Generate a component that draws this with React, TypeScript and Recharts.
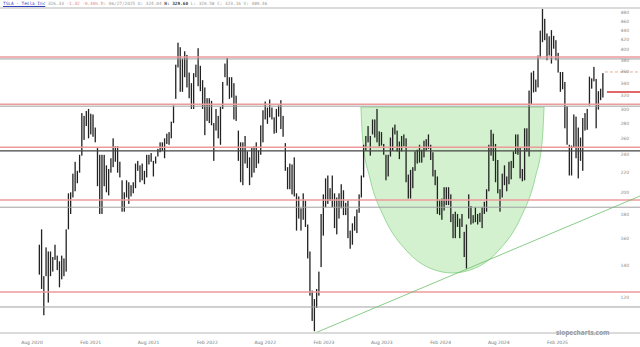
import React from "react";
import { ComposedChart, Bar, Area, Line, XAxis, YAxis, ReferenceLine } from "recharts";

// weekly price bands, first week = 24 Aug 2020
const weekLow = [
  134, 125, 110, 133, 117, 133, 136, 144, 137, 126,
  131, 133, 136, 167, 180, 195, 201, 209, 220, 239,
  258, 276, 260, 265, 262, 255, 206, 180, 180, 206,
  200, 197, 220, 226, 232, 220, 215, 182, 182, 195,
  189, 196, 199, 204, 222, 210, 212, 208, 215, 229,
  232, 216, 230, 238, 243, 245, 236, 253, 252, 260,
  280, 315, 367, 326, 326, 350, 333, 316, 300, 300,
  350, 335, 327, 300, 264, 283, 280, 277, 233, 270,
  260, 252, 300, 350, 336, 315, 317, 285, 283, 233,
  210, 207, 230, 225, 207, 215, 220, 225, 230, 240,
  255, 285, 279, 288, 285, 266, 267, 289, 272, 262,
  222, 203, 203, 198, 196, 166, 176, 166, 175, 169,
  145, 121, 107, 101.8, 114, 121, 139, 162, 186, 189,
  192, 186, 168, 163, 176, 185, 179, 179, 160, 152,
  155, 166, 164, 181, 195, 215, 245, 255, 239, 265,
  261, 255, 250, 251, 240, 212, 216, 238, 245, 265,
  244, 235, 244, 250, 210, 194, 194, 204, 222, 230,
  231, 231, 237, 245, 247, 234, 216, 207, 180, 179,
  175, 183, 188, 188, 173, 160, 160, 169, 160, 169,
  146, 138, 176, 171, 172, 173, 171, 173, 168, 180,
  182, 201, 239, 233, 210, 199, 182, 195, 207, 201,
  208, 213, 225, 241, 240, 214, 211, 212, 244, 238,
  306, 325, 326, 333, 385, 415, 419, 380, 389, 374,
  402, 380, 358, 326, 330, 273, 252, 217, 217, 249,
  236, 214, 233, 222, 270, 271, 305, 331, 343, 273,
  299, 313, 317,
];

const weekHigh = [
  155, 167, 133, 153, 150, 150, 146, 155, 147, 143,
  147, 145, 167, 199, 200, 219, 232, 222, 240, 294,
  290, 297, 300, 293, 292, 274, 248, 240, 240, 240,
  228, 224, 236, 260, 250, 250, 232, 212, 200, 212,
  210, 207, 210, 230, 233, 228, 230, 222, 240, 240,
  242, 233, 238, 247, 255, 255, 260, 266, 268, 282,
  305, 372, 414, 405, 383, 397, 390, 358, 340, 357,
  372, 403, 370, 345, 333, 316, 316, 312, 280, 300,
  290, 303, 342, 374, 384, 350, 350, 340, 320, 270,
  255, 255, 263, 244, 237, 249, 250, 255, 245, 277,
  298, 311, 302, 314, 302, 288, 300, 305, 313, 290,
  254, 226, 230, 229, 237, 199, 196, 185, 199, 192,
  171, 150, 124, 119, 125, 136, 180, 198, 214, 217,
  204, 217, 199, 195, 199, 208, 202, 190, 192, 166,
  172, 178, 184, 198, 217, 252, 263, 276, 263, 285,
  285, 300, 269, 268, 253, 240, 240, 261, 274, 278,
  270, 256, 263, 265, 260, 218, 223, 226, 244, 246,
  252, 246, 257, 259, 265, 252, 243, 223, 216, 193,
  194, 205, 205, 205, 198, 180, 182, 180, 176, 180,
  165, 171, 198, 187, 179, 186, 180, 181, 186, 191,
  203, 252, 271, 266, 253, 234, 203, 219, 228, 216,
  232, 233, 244, 265, 265, 249, 224, 273, 273, 328,
  358, 361, 346, 389, 439, 488, 465, 433, 427, 440,
  428, 419, 394, 359, 359, 342, 304, 252, 251, 292,
  289, 274, 261, 287, 294, 300, 351, 348, 368, 347,
  327, 331, 357,
];

const yTicks = [120, 140, 160, 180, 200, 220, 240, 260, 280, 300, 320, 340, 360, 380, 400, 420, 440, 460, 480];
const xTickWeeks = [-3.29, 23, 48.86, 75.14, 101, 127.29, 153.14, 179.43, 205.43, 231.71];
const xTickLabels = ["Aug 2020", "Feb 2021", "Aug 2021", "Feb 2022", "Aug 2022", "Feb 2023", "Aug 2023", "Feb 2024", "Aug 2024", "Feb 2025"];

const redLevels = [386, 307, 249, 192.7, 123.2];
const grayLevels = [382.5, 304, 186, 114.5];
const darkLevels = [244.5];

// cup outline (week, price)
const cupWeeks = [143.8, 144.6, 147.9, 154.1, 164.3, 174.5, 184.7, 195, 205.2, 215.4, 221.6, 224.9, 225.7];
const cupLows = [302.7, 258, 213.4, 177.4, 150.4, 138.4, 135.1, 138.4, 150.4, 177.4, 213.4, 258, 302.7];
const cupRim = 302.7;

const trendWeeks = [123.3, 268.6];
const trendPrices = [100.9, 196.4];

const dashWeeks = [252.9, 268.6];
const dashPrices = [359, 359];
const lastWeeks = [253.8, 268.6];
const lastPrices = [325.7, 325.7];

const candles = weekLow.map((lo, i) => ({ i, range: [lo, weekHigh[i]] }));
const cup = cupWeeks.map((w, k) => ({ i: w, cup: [cupLows[k], cupRim] }));
const trend = trendWeeks.map((w, k) => ({ i: w, t: trendPrices[k] }));
const dash = dashWeeks.map((w, k) => ({ i: w, d: dashPrices[k] }));
const last = lastWeeks.map((w, k) => ({ i: w, c: lastPrices[k] }));

const xLabel = (v: number) => {
  const k = xTickWeeks.indexOf(v);
  return k >= 0 ? xTickLabels[k] : "";
};

const PriceTick = (props: any) => {
  const { x, y, payload } = props;
  return (
    <text x={x} y={y} dy={1.6} textAnchor="end" fontSize={4.5} fill="#888" fontFamily="DejaVu Sans">
      {payload.value}
    </text>
  );
};

// weekly band drawn as a thin dark stick centred on the bar slot
const Stick = (props: any) => {
  const { x, y, width, height } = props;
  if (height == null || isNaN(height)) return null;
  const cx = x + width / 2;
  return <rect x={cx - 0.65} y={y} width={1.3} height={Math.max(height, 1)} fill="#222" />;
};

export default function App() {
  return (
    <div style={{ position: "relative", width: 640, height: 347, background: "#fff" }}>
      <style>{"body{margin:0}"}</style>
      <div
        style={{
          position: "absolute",
          left: 3,
          top: 1,
          fontFamily: "DejaVu Sans Mono",
          fontSize: 4.4,
          color: "#999",
          whiteSpace: "pre",
          zIndex: 2,
        }}
      >
        <span style={{ color: "#3344bb", textDecoration: "underline" }}>TSLA - Tesla Inc</span>
        {" 326.33 "}
        <span style={{ color: "#e08080" }}>-1.32 -0.40%</span>
        {" D: 06/27/2025 O: 324.04 "}
        <b style={{ color: "#444" }}>H: 329.60</b>
        {" L: 320.58 C: 323.16 V: 489.46"}
      </div>
      <div
        style={{
          position: "absolute",
          left: 556,
          top: 328,
          fontFamily: "Open Sans",
          fontWeight: 700,
          fontSize: 6.5,
          color: "#999",
          zIndex: 2,
        }}
      >
        slopecharts.com
      </div>
      <ComposedChart width={640} height={347} data={candles} margin={{ top: 8, right: 0, bottom: 0, left: 0 }}>
        <XAxis
          dataKey="i"
          type="number"
          domain={[-17.6, 268.6]}
          allowDataOverflow
          ticks={xTickWeeks}
          interval={0}
          tickFormatter={xLabel}
          height={14}
          axisLine={{ stroke: "#cfcfcf", strokeWidth: 1.5 }}
          tickLine={false}
          tickMargin={2}
          tick={{ fontSize: 4.5, fill: "#777", fontFamily: "DejaVu Sans" }}
        />
        <YAxis
          orientation="right"
          mirror
          type="number"
          scale="log"
          domain={[100.9, 490]}
          allowDataOverflow
          ticks={yTicks}
          interval={0}
          width={1}
          axisLine={false}
          tickLine={false}
          tickMargin={5}
          tick={<PriceTick />}
        />
        <ReferenceLine y={490} stroke="#cfcfcf" strokeWidth={1.5} ifOverflow="visible" />
        <Area
          data={cup}
          dataKey="cup"
          type="monotone"
          stroke="#86cf86"
          strokeWidth={0.8}
          fill="#cdeec7"
          fillOpacity={0.85}
          isAnimationActive={false}
        />
        {grayLevels.map((v) => (
          <ReferenceLine key={"g" + v} y={v} stroke="#a0a0a0" strokeWidth={1} />
        ))}
        {darkLevels.map((v) => (
          <ReferenceLine key={"d" + v} y={v} stroke="#444" strokeWidth={1.2} />
        ))}
        {redLevels.map((v) => (
          <ReferenceLine key={"r" + v} y={v} stroke="#ec9a9a" strokeWidth={1.5} />
        ))}
        <Line data={trend} dataKey="t" stroke="#6cbf6c" strokeWidth={0.8} dot={false} isAnimationActive={false} />
        <Bar dataKey="range" fill="#222" barSize={2} shape={<Stick />} isAnimationActive={false} />
        <Line
          data={dash}
          dataKey="d"
          stroke="#e2b08c"
          strokeWidth={1}
          strokeDasharray="3 2"
          dot={false}
          isAnimationActive={false}
        />
        <Line data={last} dataKey="c" stroke="#e06868" strokeWidth={2} dot={false} isAnimationActive={false} />
      </ComposedChart>
    </div>
  );
}
